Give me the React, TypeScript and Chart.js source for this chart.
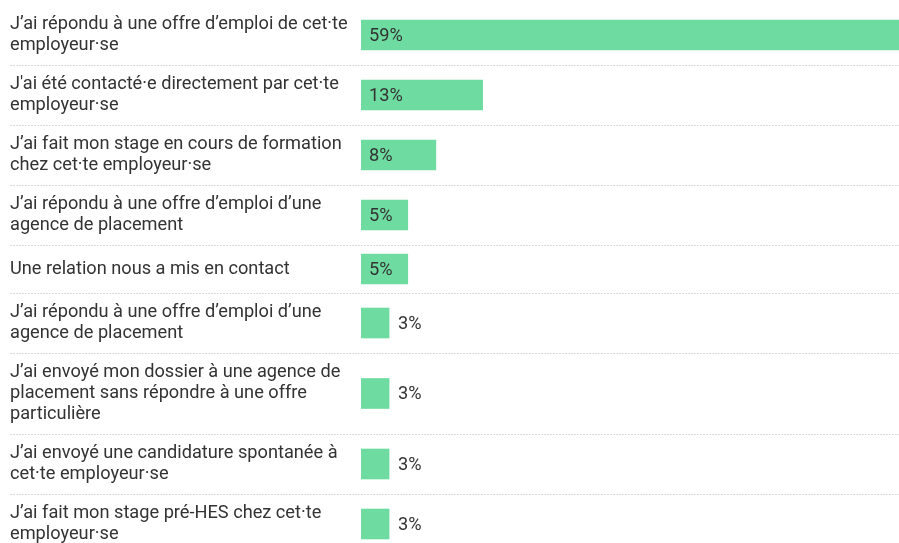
import React, { useEffect, useRef } from "react";
import { Chart, registerables, CategoryScale } from "chart.js";

const categories: string[][] = [
  ["J’ai répondu à une offre d’emploi de cet·te", "employeur·se"],
  ["J'ai été contacté·e directement par cet·te", "employeur·se"],
  ["J’ai fait mon stage en cours de formation", "chez cet·te employeur·se"],
  ["J’ai répondu à une offre d’emploi d’une", "agence de placement"],
  ["Une relation nous a mis en contact"],
  ["J’ai répondu à une offre d’emploi d’une", "agence de placement"],
  ["J’ai envoyé mon dossier à une agence de", "placement sans répondre à une offre", "particulière"],
  ["J’ai envoyé une candidature spontanée à", "cet·te employeur·se"],
  ["J’ai fait mon stage pré-HES chez cet·te", "employeur·se"],
];

const values: number[] = [59, 13, 8, 5, 5, 3, 3, 3, 3];

const BAR_COLOR = "#6EDCA0";
const TEXT_COLOR = "#333333";
const FONT_FAMILY = "Roboto, 'Noto Sans', sans-serif";

// Category scale whose bands grow with the number of label lines
class BandCategoryScale extends (CategoryScale as any) {
  static id = "bandcategory";
  static defaults = (CategoryScale as any).defaults;

  bandEdges(): number[] {
    const labels: any[] = (this as any).getLabels();
    const weights = labels.map((l: any) => {
      const lines = Array.isArray(l) ? l.length : 1;
      return Math.max(lines * 21, 30) + 18;
    });
    const total = weights.reduce((a: number, b: number) => a + b, 0) || 1;
    const top = (this as any).top;
    const k = ((this as any).bottom - top) / total;
    const edges = [top];
    let acc = 0;
    for (const w of weights) {
      acc += w;
      edges.push(top + acc * k);
    }
    return edges;
  }

  getPixelForValue(value: any) {
    if (typeof value !== "number") value = (this as any).parse(value);
    if (value === null || value === undefined || isNaN(value)) return NaN;
    const edges = this.bandEdges();
    if (value < 0 || value >= edges.length - 1) return NaN;
    return (edges[value] + edges[value + 1]) / 2;
  }
}

Chart.register(...registerables, BandCategoryScale as any);

const separatorPlugin = {
  id: "separators",
  beforeDatasetsDraw(chart: any) {
    const scale = chart.scales.y;
    const edges: number[] = scale.bandEdges();
    const ctx = chart.ctx;
    ctx.save();
    ctx.strokeStyle = "#dadada";
    ctx.lineWidth = 1;
    ctx.setLineDash([2, 1]);
    for (let i = 1; i < edges.length - 1; i++) {
      const y = Math.round(edges[i]) + 0.5;
      ctx.beginPath();
      ctx.moveTo(10, y);
      ctx.lineTo(chart.width, y);
      ctx.stroke();
    }
    ctx.restore();
  },
};

const valueLabelPlugin = {
  id: "valueLabels",
  afterDatasetsDraw(chart: any) {
    const ctx = chart.ctx;
    const meta = chart.getDatasetMeta(0);
    const data = chart.data.datasets[0].data as number[];
    ctx.save();
    ctx.font = `18.2px ${FONT_FAMILY}`;
    ctx.fillStyle = TEXT_COLOR;
    ctx.textBaseline = "middle";
    ctx.textAlign = "left";
    meta.data.forEach((bar: any, i: number) => {
      const v = data[i];
      const text = `${v}%`;
      const x = v >= 5 ? bar.base + 8 : bar.x + 9;
      ctx.fillText(text, x, bar.y + 1);
    });
    ctx.restore();
  },
};

export default function App() {
  const canvasRef = useRef<HTMLCanvasElement | null>(null);

  useEffect(() => {
    const canvas = canvasRef.current;
    if (!canvas) return;
    const chart = new Chart(canvas, {
      type: "bar",
      data: {
        labels: categories,
        datasets: [
          {
            data: values,
            backgroundColor: BAR_COLOR,
            borderWidth: 0,
            barThickness: 30,
          },
        ],
      },
      options: {
        indexAxis: "y",
        animation: false,
        responsive: false,
        devicePixelRatio: 1,
        events: [],
        layout: { padding: { top: 5, bottom: 6, left: 10, right: 0 } },
        plugins: {
          legend: { display: false },
          tooltip: { enabled: false },
          title: { display: false },
        },
        scales: {
          x: {
            display: false,
            min: 0,
            max: 59,
          },
          y: {
            type: "bandcategory" as any,
            grid: { display: false },
            border: { display: false },
            ticks: {
              autoSkip: false,
              crossAlign: "far",
              padding: 0,
              color: TEXT_COLOR,
              font: { family: FONT_FAMILY, size: 18.2, lineHeight: 21 / 18.2 },
            },
            afterFit(scale: any) {
              scale.width = 351;
              scale.paddingTop = 0;
              scale.paddingBottom = 0;
            },
          } as any,
        },
      },
      plugins: [separatorPlugin, valueLabelPlugin],
    });
    return () => chart.destroy();
  }, []);

  return (
    <div
      style={{
        position: "fixed",
        left: 0,
        top: 0,
        width: 899,
        height: 543,
        overflow: "hidden",
        background: "#ffffff",
      }}
    >
      <canvas ref={canvasRef} width={913} height={560} style={{ display: "block" }} />
    </div>
  );
}
